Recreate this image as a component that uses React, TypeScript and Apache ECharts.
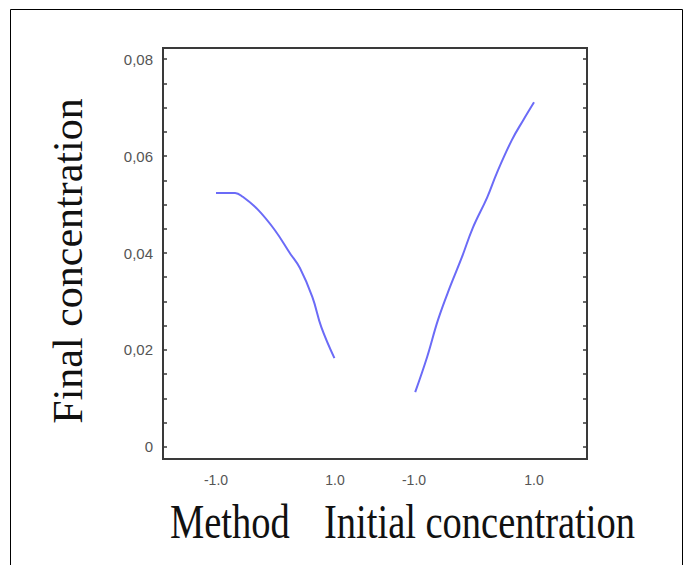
import React, { useEffect, useRef } from "react";
import * as echarts from "echarts";

// Method factor (coded -1 .. 1) vs Final concentration
const METHOD_X = [-1, -0.68, -0.55, -0.3, -0.01, 0.24, 0.41, 0.62, 0.77, 0.99];
const METHOD_Y = [0.0524, 0.0524, 0.0516, 0.049, 0.0447, 0.040, 0.0369, 0.0309, 0.0247, 0.0183];

// Initial concentration factor (coded -1 .. 1) vs Final concentration
const INIT_X = [-0.98, -0.78, -0.6, -0.4, -0.2, -0.02, 0.22, 0.38, 0.63, 0.82, 1.0];
const INIT_Y = [0.0113, 0.0186, 0.0262, 0.033, 0.0392, 0.0452, 0.0515, 0.0565, 0.0633, 0.0674, 0.0711];

const X_LABELS = [-1, 1];
const Y_LABELS = [0, 0.02, 0.04, 0.06, 0.08];
const Y_TICKS = [0, 0.005, 0.01, 0.015, 0.02, 0.025, 0.03, 0.035, 0.04, 0.045, 0.05, 0.055, 0.06, 0.065, 0.07, 0.075, 0.08];

const Y_MIN = -0.0025;
const Y_MAX = 0.0823;

const LINE_COLOR = "#6b6bf7";
const AXIS_COLOR = "#3a3a3a";

export default function App() {
  const ref = useRef<HTMLDivElement>(null);

  useEffect(() => {
    if (!ref.current) return;
    const chart = echarts.init(ref.current, null, { renderer: "svg" });

    const fmtY = (v: number) => (Math.abs(v) < 1e-9 ? "0" : v.toFixed(2).replace(".", ","));

    const yCommon = (pos: "left" | "right", labels: boolean) => ({
      type: "value",
      position: pos,
      min: Y_MIN,
      max: Y_MAX,
      axisLine: { show: false, onZero: false },
      splitLine: { show: false },
      axisTick: {
        show: true,
        inside: true,
        length: 4,
        customValues: Y_TICKS,
        lineStyle: { color: AXIS_COLOR, width: 1.5 },
      },
      axisLabel: {
        show: labels,
        customValues: Y_LABELS,
        formatter: fmtY,
        margin: 10,
        color: "#555",
        fontSize: 15,
        fontFamily: "Liberation Sans, Arial, sans-serif",
      },
    });

    const xCommon = (grid: number, min: number, max: number) => ({
      type: "value",
      gridIndex: grid,
      position: "bottom",
      min,
      max,
      axisLine: { show: false, onZero: false },
      splitLine: { show: false },
      axisTick: { show: false },
      axisLabel: {
        customValues: X_LABELS,
        formatter: (v: number) => v.toFixed(1),
        margin: 14,
        color: "#555",
        fontSize: 14,
        fontFamily: "Liberation Sans, Arial, sans-serif",
      },
    });

    chart.setOption({
      animation: false,
      backgroundColor: "#ffffff",
      grid: [
        { left: 163, top: 48, width: 212, height: 411, show: false },
        { left: 375, top: 48, width: 212, height: 411, show: false },
      ],
      xAxis: [xCommon(0, -1.891, 1.672), xCommon(1, -1.65, 1.883)],
      yAxis: [
        { ...yCommon("left", true), gridIndex: 0 },
        { ...yCommon("right", false), gridIndex: 1 },
      ],
      series: [
        {
          type: "line",
          xAxisIndex: 0,
          yAxisIndex: 0,
          data: METHOD_X.map((x, i) => [x, METHOD_Y[i]]),
          smooth: 0.4,
          showSymbol: false,
          lineStyle: { color: LINE_COLOR, width: 2 },
        },
        {
          type: "line",
          xAxisIndex: 1,
          yAxisIndex: 1,
          data: INIT_X.map((x, i) => [x, INIT_Y[i]]),
          smooth: 0.4,
          showSymbol: false,
          lineStyle: { color: LINE_COLOR, width: 2 },
        },
      ],
      graphic: [
        {
          type: "rect",
          silent: true,
          shape: { x: 10.5, y: 9.5, width: 672, height: 580 },
          style: { fill: "none", stroke: "#000", lineWidth: 1 },
        },
        {
          type: "rect",
          silent: true,
          z: 10,
          shape: { x: 163, y: 48, width: 424, height: 411 },
          style: { fill: "none", stroke: AXIS_COLOR, lineWidth: 2 },
        },
        {
          type: "text",
          x: 68,
          y: 261,
          rotation: Math.PI / 2,
          style: {
            text: "Final concentration",
            font: "42px 'Liberation Serif', 'Times New Roman', serif",
            fill: "#111",
            textAlign: "center",
            textVerticalAlign: "middle",
          },
        },
        {
          type: "text",
          x: 170,
          y: 521,
          scaleY: 1.25,
          style: {
            text: "Method",
            font: "38.5px 'Liberation Serif', 'Times New Roman', serif",
            fill: "#111",
            textAlign: "left",
            textVerticalAlign: "middle",
          },
        },
        {
          type: "text",
          x: 324,
          y: 521,
          scaleY: 1.25,
          style: {
            text: "Initial concentration",
            font: "38.5px 'Liberation Serif', 'Times New Roman', serif",
            fill: "#111",
            textAlign: "left",
            textVerticalAlign: "middle",
          },
        },
      ],
    });

    return () => chart.dispose();
  }, []);

  return (
    <div
      ref={ref}
      style={{ position: "fixed", left: 0, top: 0, width: 693, height: 565, background: "#fff" }}
    />
  );
}
